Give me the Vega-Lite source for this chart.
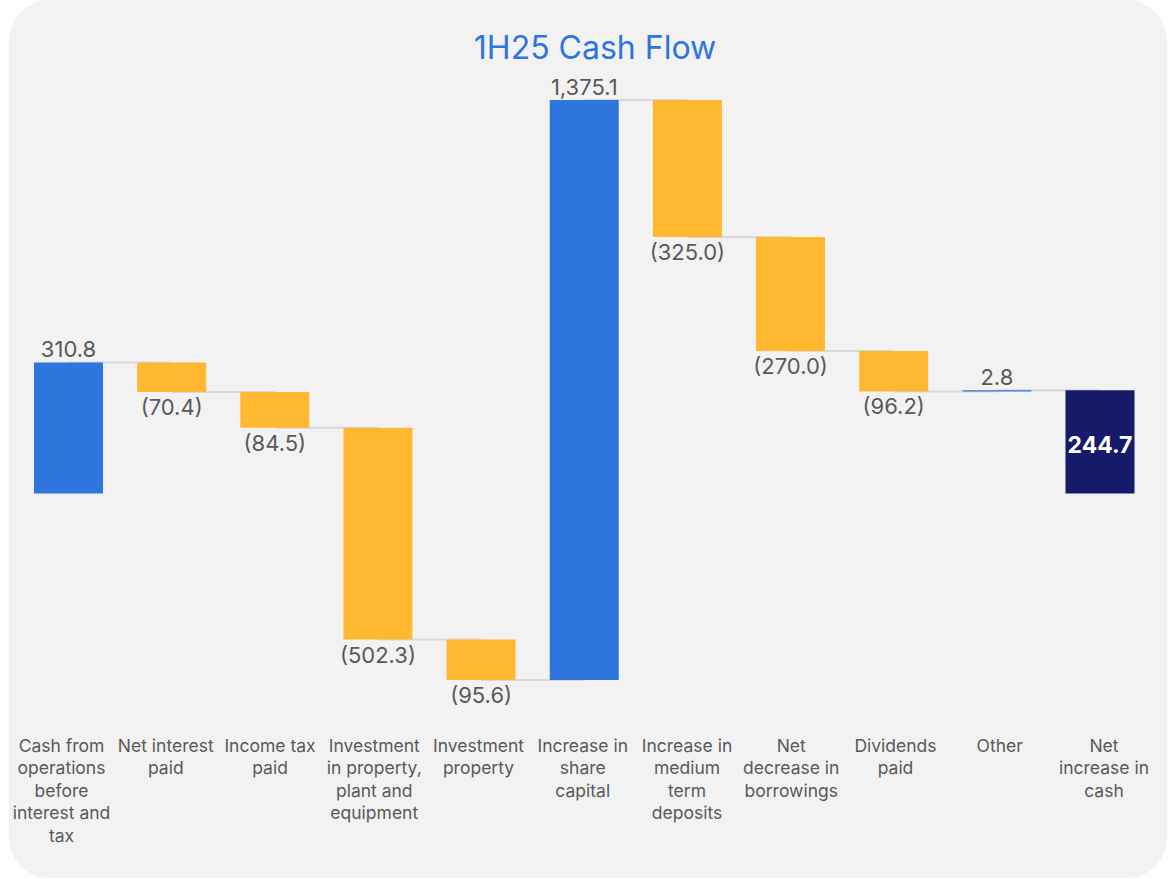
{
  "$schema": "https://vega.github.io/schema/vega-lite/v6.json",
  "width": 1158,
  "height": 878,
  "autosize": {"type": "none"},
  "padding": {"left": 9, "top": 0, "right": 1, "bottom": 1},
  "background": "#ffffff",
  "config": {
    "view": {"fill": "#f2f2f2", "stroke": null, "cornerRadius": 40},
    "font": "Inter"
  },
  "title": {
    "text": "1H25 Cash Flow",
    "color": "#2e75de",
    "fontSize": 32,
    "fontWeight": "normal",
    "font": "Inter",
    "anchor": "middle",
    "baseline": "alphabetic",
    "offset": -91,
    "dx": 7
  },
  "data": {
    "values": [
      {"cat": "Cash from|operations|before|interest and|tax", "start": 0, "end": 310.8, "kind": "up", "txt": "310.8", "next": "Net interest|paid"},
      {"cat": "Net interest|paid", "start": 310.8, "end": 240.4, "kind": "down", "txt": "(70.4)", "next": "Income tax|paid"},
      {"cat": "Income tax|paid", "start": 240.4, "end": 155.9, "kind": "down", "txt": "(84.5)", "next": "Investment|in property,|plant and|equipment"},
      {"cat": "Investment|in property,|plant and|equipment", "start": 155.9, "end": -346.4, "kind": "down", "txt": "(502.3)", "next": "Investment|property"},
      {"cat": "Investment|property", "start": -346.4, "end": -442.0, "kind": "down", "txt": "(95.6)", "next": "Increase in|share|capital"},
      {"cat": "Increase in|share|capital", "start": -442.0, "end": 933.1, "kind": "up", "txt": "1,375.1", "next": "Increase in|medium|term|deposits"},
      {"cat": "Increase in|medium|term|deposits", "start": 933.1, "end": 608.1, "kind": "down", "txt": "(325.0)", "next": "Net|decrease in|borrowings"},
      {"cat": "Net|decrease in|borrowings", "start": 608.1, "end": 338.1, "kind": "down", "txt": "(270.0)", "next": "Dividends|paid"},
      {"cat": "Dividends|paid", "start": 338.1, "end": 241.9, "kind": "down", "txt": "(96.2)", "next": "Other"},
      {"cat": "Other", "start": 241.9, "end": 244.7, "kind": "up", "txt": "2.8", "next": "Net|increase in|cash"},
      {"cat": "Net|increase in|cash", "start": 0, "end": 244.7, "kind": "total", "txt": "244.7", "next": null}
    ]
  },
  "encoding": {
    "x": {
      "field": "cat",
      "type": "nominal",
      "sort": null,
      "scale": {"range": [0, 1150.5], "paddingInner": 0.331, "paddingOuter": 0.2424},
      "axis": {
        "title": null,
        "orient": "bottom",
        "offset": -141,
        "domain": false,
        "ticks": false,
        "labelAngle": 0,
        "labelPadding": 0,
        "labelOffset": {"expr": "-7 + 11 * datum.index"},
        "labelBaseline": "top",
        "labelFontSize": 17.5,
        "labelLineHeight": 22.5,
        "labelColor": "#595959",
        "labelFont": "Inter",
        "labelExpr": "split(datum.label, '|')"
      }
    }
  },
  "layer": [
    {
      "transform": [{"filter": "datum.next != null"}],
      "mark": {"type": "rule", "color": "#d9d9d9", "strokeWidth": 2},
      "encoding": {
        "x2": {"field": "next"},
        "y": {"field": "end", "type": "quantitative", "scale": {"domain": [-911.6, 1170], "nice": false, "zero": false}, "axis": null}
      }
    },
    {
      "mark": {"type": "bar"},
      "encoding": {
        "y": {"field": "start", "type": "quantitative", "scale": {"domain": [-911.6, 1170], "nice": false, "zero": false}, "axis": null},
        "y2": {"field": "end"},
        "color": {"field": "kind", "type": "nominal", "legend": null, "scale": {"domain": ["up", "down", "total"], "range": ["#2e75de", "#ffb830", "#161b69"]}}
      }
    },
    {
      "transform": [{"filter": "datum.kind == 'up'"}],
      "mark": {"type": "text", "baseline": "alphabetic", "dy": -5, "fontSize": 22, "color": "#595959", "font": "Inter"},
      "encoding": {
        "y": {"field": "end", "type": "quantitative", "scale": {"domain": [-911.6, 1170], "nice": false, "zero": false}, "axis": null},
        "text": {"field": "txt"}
      }
    },
    {
      "transform": [{"filter": "datum.kind == 'down'"}],
      "mark": {"type": "text", "baseline": "top", "dy": 6, "fontSize": 22, "color": "#595959", "font": "Inter"},
      "encoding": {
        "y": {"field": "end", "type": "quantitative", "scale": {"domain": [-911.6, 1170], "nice": false, "zero": false}, "axis": null},
        "text": {"field": "txt"}
      }
    },
    {
      "transform": [{"filter": "datum.kind == 'total'"}],
      "mark": {"type": "text", "baseline": "middle", "dy": 56, "fontSize": 23, "fontWeight": "bold", "color": "#ffffff", "font": "Inter"},
      "encoding": {
        "y": {"field": "end", "type": "quantitative", "scale": {"domain": [-911.6, 1170], "nice": false, "zero": false}, "axis": null},
        "text": {"field": "txt"}
      }
    }
  ]
}
